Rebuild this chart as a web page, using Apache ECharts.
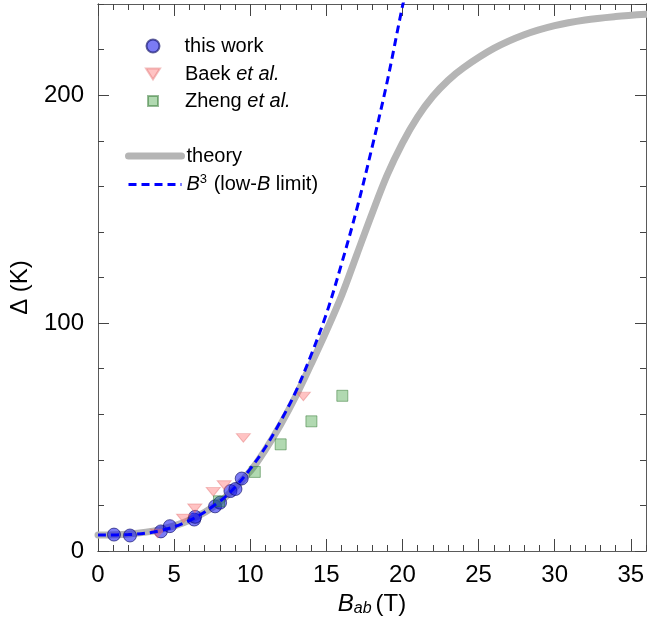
<!DOCTYPE html>
<html>
<head>
<meta charset="utf-8">
<script src="https://cdn.jsdelivr.net/npm/echarts@6/dist/echarts.min.js"></script>
<style>
  html, body { margin: 0; padding: 0; background: #fff; }
  #chart { width: 647px; height: 627px; }
</style>
</head>
<body>
<div id="chart"></div>
<script>
// Gap Δ (K) versus in-plane field B_ab (T)

// measured points: this work
const thisWorkB   = [1.05, 2.1, 4.13, 4.72, 6.32, 6.38, 7.69, 8.02, 8.7, 9.03, 9.44];
const thisWorkGap = [7.2, 6.8, 8.6, 10.9, 13.8, 15.0, 19.6, 21.2, 26.3, 27.2, 31.8];

// Baek et al.
const baekB   = [3.91, 5.62, 6.36, 7.57, 8.29, 9.55, 13.49];
const baekGap = [7.7, 14.3, 18.7, 26.0, 28.9, 49.6, 67.8];

// Zheng et al.
const zhengB   = [7.95, 10.3, 12.0, 14.02, 16.05];
const zhengGap = [21.8, 34.7, 46.8, 56.9, 68.1];

// theory curve
const theoryB   = [0, 2, 4, 6, 8, 10, 11, 12, 13, 14, 15, 16, 17, 18, 19, 20, 21, 22, 23, 24, 26, 28, 30, 32, 34, 36];
const theoryGap = [7, 7.5, 9.3, 13.5, 21.5, 35, 44.5, 55.5, 68, 82, 96.5, 112, 130, 148, 165, 179, 190.5, 199.5, 206.5, 212, 220.5, 226.5, 230.5, 233, 234.5, 235.5];

// low-field B^3 limit
const cubicB   = [0, 2, 4, 6, 8, 9, 10, 11, 12, 13, 14, 15, 16, 17, 18, 19, 20, 20.2];
const cubicGap = [7, 7.2, 8.8, 13.3, 21.8, 28, 36, 45.5, 57, 70, 86, 104, 126, 150, 177, 206, 239, 244];

// axis ticks
const xMajorStep = 5, xMinorStep = 1, xMin = 0, xMax = 36;
const yMajorStep = 100, yMinorStep = 20, yMin = 0, yMax = 240;

const pairs = (xs, ys) => xs.map((x, i) => [x, ys[i]]);

const FONT = '"Liberation Sans", Arial, Helvetica, sans-serif';
const AXIS_COLOR = '#5a5a5a';
const TICK_COLOR = '#444';
const TRIANGLE_DOWN = 'path://M0,0 L14,0 L7,11 Z';

function xAxisDef(pos, step, tickLen, labels, name) {
  return {
    type: 'value', position: pos, min: xMin, max: xMax, interval: step,
    axisLine: { show: true, onZero: false, lineStyle: { color: AXIS_COLOR, width: 1 } },
    axisTick: { show: true, inside: true, length: tickLen, lineStyle: { color: TICK_COLOR, width: 1 } },
    axisLabel: labels ? {
      show: true, margin: 12, color: '#000', fontSize: 24, fontFamily: FONT,
      showMaxLabel: false,
      formatter: v => (v % xMajorStep === 0 ? String(v) : '')
    } : { show: false },
    splitLine: { show: false },
    name: name || '',
    nameLocation: 'middle',
    nameGap: 38,
    nameTextStyle: {
      color: '#000', fontSize: 24, fontFamily: FONT,
      rich: {
        i: { fontStyle: 'italic', fontSize: 24, fontFamily: FONT, color: '#000' },
        sub: { fontStyle: 'italic', fontSize: 16, fontFamily: FONT, color: '#000', padding: [10, 4, 0, 0] },
        t: { fontSize: 24, fontFamily: FONT, color: '#000' }
      }
    }
  };
}

function yAxisDef(pos, step, tickLen, labels, name) {
  return {
    type: 'value', position: pos, min: yMin, max: yMax, interval: step,
    axisLine: { show: true, onZero: false, lineStyle: { color: AXIS_COLOR, width: 1 } },
    axisTick: { show: true, inside: true, length: tickLen, lineStyle: { color: TICK_COLOR, width: 1 } },
    axisLabel: labels ? {
      show: true, margin: 14, color: '#000', fontSize: 24, fontFamily: FONT,
      showMaxLabel: false,
      formatter: v => (v % yMajorStep === 0 ? String(v) : '')
    } : { show: false },
    splitLine: { show: false },
    name: name || '',
    nameLocation: 'middle',
    nameGap: 66,
    nameRotate: 90,
    nameTextStyle: { color: '#000', fontSize: 24, fontFamily: FONT, padding: [0, 20, 0, 0] }
  };
}

function legendText(padLeft) {
  return {
    color: '#000', fontSize: 20, fontFamily: FONT, lineHeight: 22,
    padding: [0, 0, 0, padLeft],
    rich: {
      i: { fontStyle: 'italic', fontSize: 20, fontFamily: FONT, color: '#000', lineHeight: 22 },
      sup: { fontSize: 13, fontFamily: FONT, color: '#000', padding: [0, 1, 10, 0], lineHeight: 22 },
      n: { fontSize: 20, fontFamily: FONT, color: '#000', lineHeight: 22 }
    }
  };
}
const legendFormatter = name => ({
  'this work': '{n|this work}',
  'Baek et al.': '{n|Baek }{i|et al.}',
  'Zheng et al.': '{n|Zheng }{i|et al.}',
  'theory': '{n|theory}',
  'B3': '{i|B}{sup|3}{n| (low-}{i|B}{n| limit)}'
}[name]);

// legend entries: icon column centred at x = 152, text column starting at x = 184
function legendDef(items, left, top, w, h, gap, padLeft, extra) {
  return Object.assign({
    data: items, orient: 'vertical', left: left, top: top, padding: 0,
    itemWidth: w, itemHeight: h, itemGap: gap,
    selectedMode: false, symbolKeepAspect: true,
    textStyle: legendText(padLeft), formatter: legendFormatter
  }, extra || {});
}

const chart = echarts.init(document.getElementById('chart'), null, { renderer: 'canvas' });

chart.setOption({
  backgroundColor: '#fff',
  animation: false,
  grid: { left: 98, right: 1, top: 4, bottom: 76, containLabel: false, outerBoundsMode: 'none' },
  xAxis: [
    xAxisDef('bottom', xMajorStep, 12, true, '{i|B}{sub|ab}{t|(T)}'),
    xAxisDef('bottom', xMinorStep, 6, false),
    xAxisDef('top', xMajorStep, 12, false),
    xAxisDef('top', xMinorStep, 6, false)
  ],
  yAxis: [
    yAxisDef('left', yMajorStep, 11, true, 'Δ (K)'),
    yAxisDef('left', yMinorStep, 6, false),
    yAxisDef('right', yMajorStep, 11, false),
    yAxisDef('right', yMinorStep, 6, false)
  ],
  legend: [
    legendDef([{ name: 'this work', icon: 'circle' }], 145.5, 35, 13, 13, 0, 20),
    legendDef([{ name: 'Baek et al.', icon: TRIANGLE_DOWN }], 145, 63, 14, 11, 0, 20),
    legendDef([{ name: 'Zheng et al.', icon: 'rect' }], 147, 90, 10, 10, 0, 22),
    legendDef(['theory', 'B3'], 125, 145, 53, 7, 6, 0, {
      itemStyle: { opacity: 0 },
      lineStyle: { width: 'inherit', type: 'inherit', cap: 'inherit' }
    })
  ],
  series: [
    {
      name: 'theory', type: 'line', z: 1,
      data: pairs(theoryB, theoryGap),
      smooth: 0.35, symbol: 'none', clip: true,
      lineStyle: { color: '#b5b5b5', width: 7, cap: 'round', join: 'round' },
      itemStyle: { color: '#b5b5b5' }
    },
    {
      name: 'this work', type: 'scatter', z: 2,
      data: pairs(thisWorkB, thisWorkGap),
      symbol: 'circle', symbolSize: 13,
      itemStyle: { color: 'rgba(20, 20, 235, 0.7)', borderColor: 'rgba(0, 0, 90, 0.75)', borderWidth: 1 }
    },
    {
      name: 'Baek et al.', type: 'scatter', z: 3,
      data: pairs(baekB, baekGap),
      symbol: TRIANGLE_DOWN, symbolKeepAspect: true, symbolSize: [14, 11],
      itemStyle: { color: 'rgba(255, 105, 105, 0.5)', borderColor: 'rgba(225, 110, 110, 0.55)', borderWidth: 1 }
    },
    {
      name: 'Zheng et al.', type: 'scatter', z: 4,
      data: pairs(zhengB, zhengGap),
      symbol: 'rect', symbolKeepAspect: true, symbolSize: 11,
      itemStyle: { color: 'rgba(60, 160, 60, 0.5)', borderColor: 'rgba(40, 110, 40, 0.6)', borderWidth: 1 }
    },
    {
      name: 'B3', type: 'line', z: 5,
      data: pairs(cubicB, cubicGap),
      smooth: 0.35, symbol: 'none', clip: true,
      lineStyle: { color: '#0000ff', width: 3, type: [8, 5] },
      itemStyle: { color: '#0000ff' }
    }
  ]
});
</script>
</body>
</html>
